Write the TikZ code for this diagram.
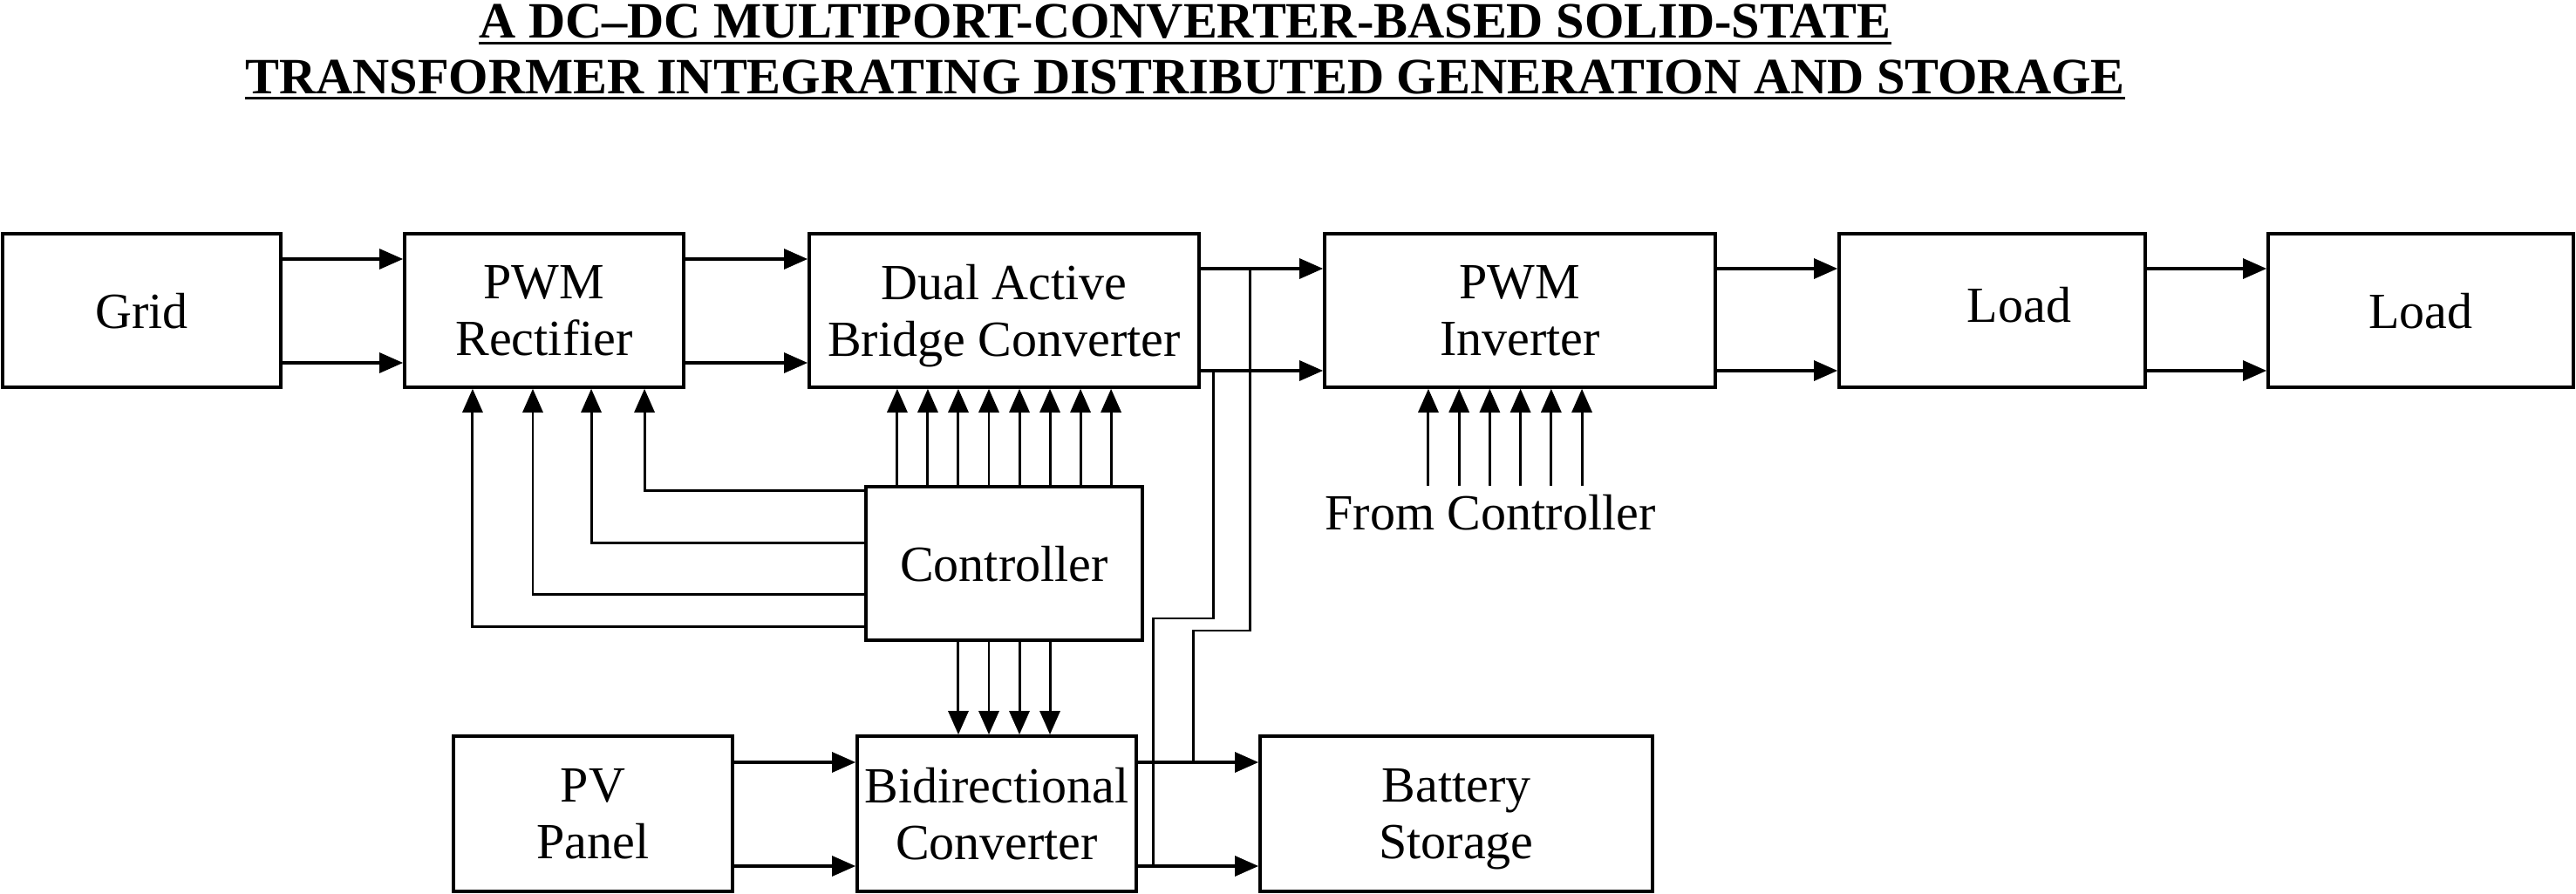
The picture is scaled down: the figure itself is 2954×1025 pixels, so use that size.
\documentclass[tikz,border=0pt]{standalone}
\usepackage{fontspec}
\setmainfont{Liberation Serif}
\usetikzlibrary{arrows.meta,positioning}

\begin{document}
\begin{tikzpicture}[x=0.01cm,y=-0.01cm,>={Triangle[length=0.27cm,width=0.23cm]}]
    \tikzset{
      lbl/.style={font=\fontsize{16.5}{18.5}\selectfont},
      block/.style={lbl,draw,line width=1pt,inner sep=0pt,align=center,
        minimum height=1.76cm,text depth=0pt},
      flow/.style={->,line width=0.9pt},
      ctrlline/.style={->,line width=0.85pt},
      wire/.style={line width=0.85pt},
      heading/.style={inner sep=0pt,anchor=base,font=\fontsize{16.6}{19}\selectfont\bfseries}
    }
    \useasboundingbox (0,0) rectangle (2954,1025);

    % title
    \node[heading] (title1) at (1359,44) {A DC–DC MULTIPORT-CONVERTER-BASED SOLID-STATE};
    \node[heading] (title2) at (1359,108) {TRANSFORMER INTEGRATING DISTRIBUTED GENERATION AND STORAGE};
    \draw[wire] ([yshift=-0.055cm]title1.base west) -- ([yshift=-0.055cm]title1.base east);
    \draw[wire] ([yshift=-0.045cm]title2.base west) -- ([yshift=-0.045cm]title2.base east);

    % blocks
    \node[block,minimum width=3.19cm] (grid) at (162.5,356) {Grid};
    \node[block,minimum width=3.20cm] (rect) at (624,356) {PWM\\Rectifier};
    \node[block,minimum width=4.47cm] (dab) at (1151.5,356) {Dual Active\\Bridge Converter};
    \node[block,minimum width=4.48cm] (inv) at (1743,356) {PWM\\Inverter};
    \node[block,minimum width=3.51cm,
      label={[lbl,xshift=0.31cm,yshift=0.06cm]center:Load}] (load1) at (2284.5,356) {};
    \node[block,minimum width=3.50cm] (load2) at (2776,356) {Load};
    \node[block,minimum width=3.17cm] (ctrl) at (1151.5,646) {Controller};
    \node[block,minimum width=3.20cm,minimum height=1.78cm] (pv) at (680,933) {PV\\Panel};
    \node[block,minimum width=3.20cm,minimum height=1.78cm] (bidir) at (1143,933) {Bidirectional\\Converter};
    \node[block,minimum width=4.50cm,minimum height=1.78cm] (batt) at (1670,933) {Battery\\Storage};
    \node[lbl,anchor=base] (from) at (1709,608) {From Controller};

    % wire levels
    \coordinate (hiL) at (0,297);
    \coordinate (loL) at (0,416);
    \coordinate (hiR) at (0,308);
    \coordinate (loR) at (0,425);
    \coordinate (hiB) at (0,874);
    \coordinate (loB) at (0,993);
    \coordinate (fromtop) at (0,557);

    % power flow
    \foreach \a/\b in {grid/rect,rect/dab} {
      \draw[flow] (\a.east |- hiL) -- (\b.west |- hiL);
      \draw[flow] (\a.east |- loL) -- (\b.west |- loL);
    }
    \foreach \a/\b in {dab/inv,inv/load1,load1/load2} {
      \draw[flow] (\a.east |- hiR) -- (\b.west |- hiR);
      \draw[flow] (\a.east |- loR) -- (\b.west |- loR);
    }
    \foreach \a/\b in {pv/bidir,bidir/batt} {
      \draw[flow] (\a.east |- hiB) -- (\b.west |- hiB);
      \draw[flow] (\a.east |- loB) -- (\b.west |- loB);
    }

    % dc link to the storage side
    \coordinate (tapA) at (1433,308);
    \coordinate (tapB) at (1391,425);
    \coordinate (joinA) at (1368,874);
    \coordinate (joinB) at (1322,993);
    \draw[wire] (tapA) -- ++(0,415) -| (joinA);
    \draw[wire] (tapB) -- ++(0,284) -| (joinB);

    % control signals
    \foreach \dx/\dy in {1.15/0.83,0.54/0.23,-0.13/-0.35,-0.82/-0.72}
      \draw[ctrlline] ([yshift=\dy cm]ctrl.west) -| ([xshift=\dx cm]rect.south);
    \foreach \i [evaluate=\i as \dx using \i*0.35-1.225] in {0,...,7}
      \draw[ctrlline] ([xshift=\dx cm]ctrl.north) -- ([xshift=\dx cm]dab.south);
    \foreach \dx in {-0.525,-0.175,0.175,0.525}
      \draw[ctrlline] ([xshift=\dx cm]ctrl.south) -- ([xshift=\dx cm]ctrl.south |- bidir.north);
    \foreach \i [evaluate=\i as \dx using \i*0.352-1.05] in {0,...,5}
      \draw[ctrlline] ([xshift=\dx cm]inv.south |- fromtop) -- ([xshift=\dx cm]inv.south);
  \end{tikzpicture}
\end{document}
